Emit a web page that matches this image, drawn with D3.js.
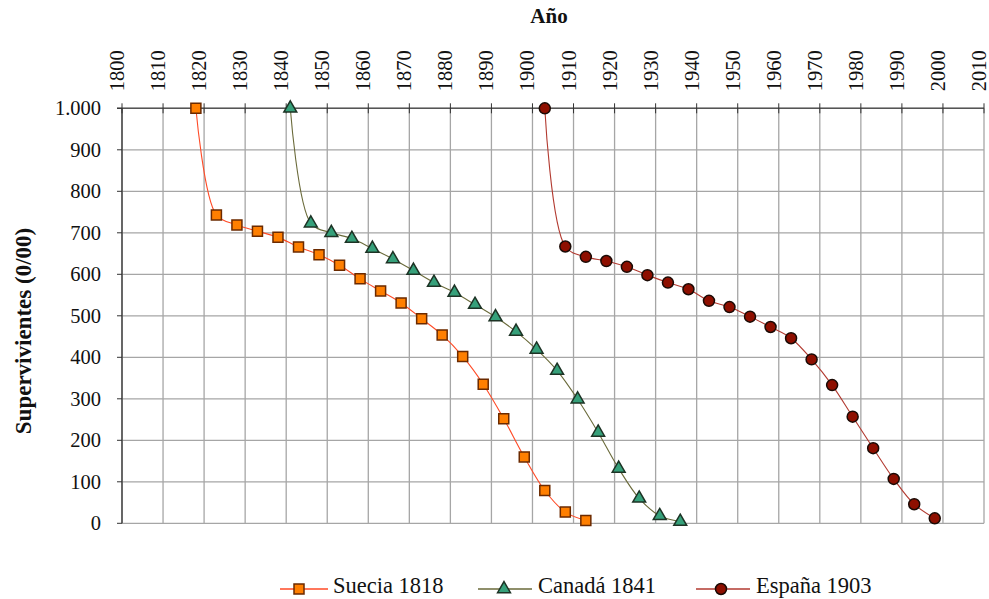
<!DOCTYPE html>
<html lang="es">
<head>
<meta charset="utf-8">
<script src="https://cdn.jsdelivr.net/npm/d3@7"></script>
<style>
  html, body { margin: 0; padding: 0; background: #fff; }
  svg { display: block; }
  text { font-family: "Liberation Serif", "Times New Roman", serif; fill: #111; }
</style>
</head>
<body>
<svg id="chart" width="989" height="599"></svg>
<script>
// Survival curves (survivors per thousand) of three birth cohorts, by calendar year
const yearTicks = [1800, 1810, 1820, 1830, 1840, 1850, 1860, 1870, 1880, 1890, 1900,
                   1910, 1920, 1930, 1940, 1950, 1960, 1970, 1980, 1990, 2000, 2010];
const survivorTicks = [0, 100, 200, 300, 400, 500, 600, 700, 800, 900, 1000];

const sueciaYears = [1818, 1823, 1828, 1833, 1838, 1843, 1848, 1853, 1858, 1863,
                     1868, 1873, 1878, 1883, 1888, 1893, 1898, 1903, 1908, 1913];
const sueciaValues = [1000, 743, 719, 704, 689, 666, 647, 622, 589, 560,
                      531, 493, 454, 402, 335, 252, 160, 79, 27, 7];

const canadaYears = [1841, 1846, 1851, 1856, 1861, 1866, 1871, 1876, 1881, 1886,
                     1891, 1896, 1901, 1906, 1911, 1916, 1921, 1926, 1931, 1936];
const canadaValues = [1000, 723, 700, 686, 662, 637, 609, 580, 556, 527,
                      497, 462, 419, 368, 299, 219, 132, 60, 18, 4];

const espanaYears = [1903, 1908, 1913, 1918, 1923, 1928, 1933, 1938, 1943, 1948,
                     1953, 1958, 1963, 1968, 1973, 1978, 1983, 1988, 1993, 1998];
const espanaValues = [1000, 667, 642, 632, 618, 598, 580, 564, 536, 521,
                      498, 473, 446, 395, 333, 257, 181, 107, 46, 12];

const seriesNames = ["Suecia 1818", "Canadá 1841", "España 1903"];

const series = [
  { name: seriesNames[0], years: sueciaYears, values: sueciaValues,
    line: "#ff4a26", fill: "#ff7f00", stroke: "#6b2a00", symbol: d3.symbolSquare, size: 100 },
  { name: seriesNames[1], years: canadaYears, values: canadaValues,
    line: "#6a6a3a", fill: "#36a07a", stroke: "#1d3325", symbol: d3.symbolTriangle, size: 72 },
  { name: seriesNames[2], years: espanaYears, values: espanaValues,
    line: "#b23a30", fill: "#8e0f00", stroke: "#1a0a05", symbol: d3.symbolCircle, size: 95 }
];

const svg = d3.select("#chart");
const plotLeft = 122, plotRight = 984, plotTop = 108.3, plotBottom = 523.3;

const x = d3.scaleLinear().domain([1800, 2010]).range([plotLeft, plotRight]);
const y = d3.scaleLinear().domain([0, 1000]).range([plotBottom, plotTop]);

const esLocale = d3.formatLocale({ decimal: ",", thousands: ".", grouping: [3], currency: ["", " €"] });
const fmt = esLocale.format(",");

// Grid
const grid = svg.append("g");
grid.selectAll("line.v").data(yearTicks).join("line")
  .attr("x1", d => x(d)).attr("x2", d => x(d))
  .attr("y1", plotTop).attr("y2", plotBottom)
  .attr("stroke", "#a6a6a6").attr("stroke-width", 1.3);
grid.selectAll("line.h").data(survivorTicks).join("line")
  .attr("x1", plotLeft).attr("x2", plotRight)
  .attr("y1", d => y(d)).attr("y2", d => y(d))
  .attr("stroke", "#a6a6a6").attr("stroke-width", 1.3);

// Top year axis
const xAxis = svg.append("g");
xAxis.append("line")
  .attr("x1", plotLeft - 5).attr("x2", plotRight)
  .attr("y1", plotTop).attr("y2", plotTop)
  .attr("stroke", "#555").attr("stroke-width", 1.5);
xAxis.selectAll("line.tick").data(yearTicks).join("line")
  .attr("x1", d => x(d)).attr("x2", d => x(d))
  .attr("y1", plotTop - 5).attr("y2", plotTop + 5)
  .attr("stroke", "#333").attr("stroke-width", 1);
xAxis.selectAll("text").data(yearTicks).join("text")
  .attr("transform", d => `translate(${x(d) + 2},${plotTop - 17}) rotate(-90)`)
  .attr("text-anchor", "start")
  .attr("font-size", 20.5)
  .text(d => d);

// Left survivors axis
const yAxis = svg.append("g");
yAxis.append("line")
  .attr("x1", plotLeft).attr("x2", plotLeft)
  .attr("y1", plotTop).attr("y2", plotBottom)
  .attr("stroke", "#333").attr("stroke-width", 1.3);
yAxis.selectAll("line.tick").data(survivorTicks).join("line")
  .attr("x1", plotLeft - 5).attr("x2", plotLeft)
  .attr("y1", d => y(d)).attr("y2", d => y(d))
  .attr("stroke", "#333").attr("stroke-width", 1);
yAxis.selectAll("text").data(survivorTicks).join("text")
  .attr("x", 101).attr("y", d => y(d))
  .attr("dy", "0.35em")
  .attr("text-anchor", "end")
  .attr("font-size", 20.5)
  .text(d => fmt(d));

// Titles
svg.append("text")
  .attr("x", 549).attr("y", 23)
  .attr("text-anchor", "middle")
  .attr("font-size", 21).attr("font-weight", "bold")
  .text("Año");
svg.append("text")
  .attr("transform", "translate(23,331) rotate(-90)")
  .attr("dy", "0.35em")
  .attr("text-anchor", "middle")
  .attr("font-size", 23).attr("font-weight", "bold")
  .text("Supervivientes (0/00)");

// Smoothed curves and markers
const lineGen = d3.line()
  .x(d => x(d[0])).y(d => y(d[1]))
  .curve(d3.curveCatmullRom.alpha(0.5));

series.forEach(s => {
  const pts = s.years.map((yr, i) => [yr, s.values[i]]);
  svg.append("path")
    .datum(pts)
    .attr("fill", "none")
    .attr("stroke", s.line)
    .attr("stroke-width", 1.1)
    .attr("d", lineGen);
  svg.append("g").selectAll("path").data(pts).join("path")
    .attr("transform", d => `translate(${x(d[0])},${y(d[1])})`)
    .attr("d", d3.symbol().type(s.symbol).size(s.size))
    .attr("fill", s.fill)
    .attr("stroke", s.stroke)
    .attr("stroke-width", 1.5);
});

// Legend
const legendY = 589;
const legendItems = [
  { x0: 280, x1: 328, mx: 299, tx: 333 },
  { x0: 478, x1: 532, mx: 504, tx: 538 },
  { x0: 696, x1: 750, mx: 721, tx: 756 }
];
series.forEach((s, i) => {
  const it = legendItems[i];
  const g = svg.append("g");
  g.append("line")
    .attr("x1", it.x0).attr("x2", it.x1)
    .attr("y1", legendY).attr("y2", legendY)
    .attr("stroke", s.line).attr("stroke-width", 1.3);
  g.append("path")
    .attr("transform", `translate(${it.mx},${legendY})`)
    .attr("d", d3.symbol().type(s.symbol).size(s.size))
    .attr("fill", s.fill).attr("stroke", s.stroke).attr("stroke-width", 1.5);
  g.append("text")
    .attr("x", it.tx).attr("y", 592.5)
    .attr("font-size", 22.5)
    .text(s.name);
});
</script>
</body>
</html>
